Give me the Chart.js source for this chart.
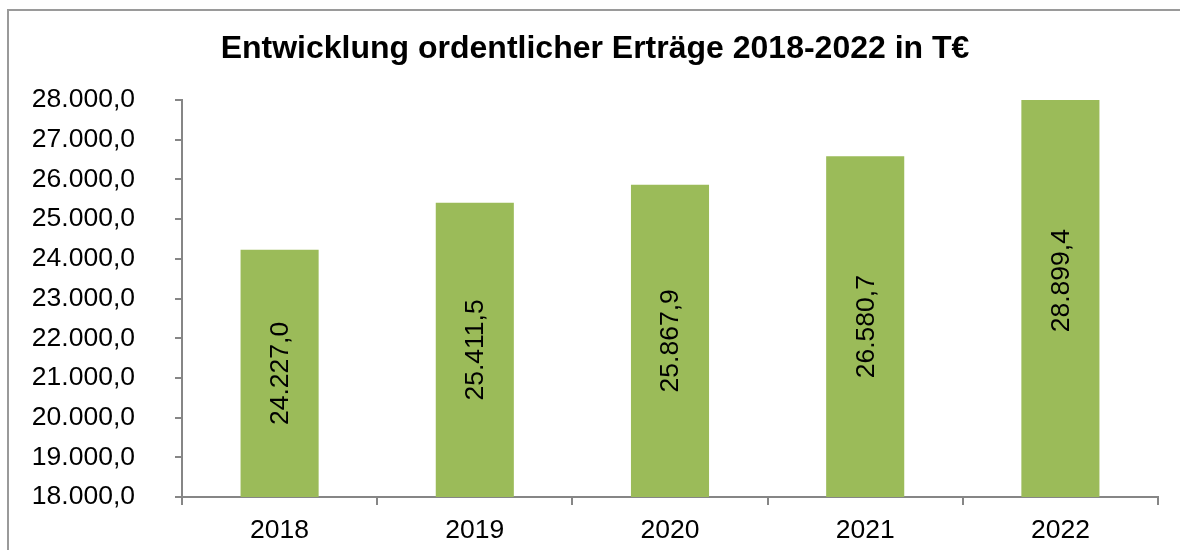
<!DOCTYPE html>
<html>
<head>
<meta charset="utf-8">
<script src="https://cdn.jsdelivr.net/npm/chart.js@4/dist/chart.umd.min.js"></script>
<style>
    html, body { margin: 0; padding: 0; background: #fff; }
    #wrap { width: 1180px; height: 550px; }
</style>
</head>
<body>
<div id="wrap"><canvas id="myChart" width="1180" height="550"></canvas></div>
<script>
const title = 'Entwicklung ordentlicher Erträge 2018-2022 in T€';
const years = ['2018', '2019', '2020', '2021', '2022'];
const values = [24227.0, 25411.5, 25867.9, 26580.7, 28899.4];
const y_min = 18000;
const y_max = 28000;
const y_step = 1000;

const font_family = '"Liberation Sans", Arial, sans-serif';
const axis_color = '#868686';

// German number format: 28.000,0
function fmt_de(v) {
    let parts = v.toFixed(1).split('.');
    let int_part = parts[0].replace(/\B(?=(\d{3})+(?!\d))/g, '.');
    return int_part + ',' + parts[1];
}

// frame lines (top + left) like the cropped chart border
const frame_plugin = {
    id: 'frame',
    beforeDraw(chart) {
        const ctx = chart.ctx;
        ctx.save();
        ctx.strokeStyle = '#9a9a9a';
        ctx.lineWidth = 2;
        ctx.beginPath();
        ctx.moveTo(8, 550);
        ctx.lineTo(8, 10);
        ctx.lineTo(1180, 10);
        ctx.stroke();
        ctx.restore();
    }
};

// value labels, rotated, centered in the (unclipped) bar
const value_labels = {
    id: 'value_labels',
    afterDatasetsDraw(chart) {
        const ctx = chart.ctx;
        const y = chart.scales.y;
        const meta = chart.getDatasetMeta(0);
        ctx.save();
        ctx.font = '26.5px ' + font_family;
        ctx.fillStyle = '#000';
        ctx.textAlign = 'center';
        ctx.textBaseline = 'middle';
        meta.data.forEach((bar, i) => {
            const v = values[i];
            const top = y.getPixelForValue(v);
            const base = y.getPixelForValue(y_min);
            ctx.save();
            ctx.translate(bar.x, (top + base) / 2);
            ctx.rotate(-Math.PI / 2);
            ctx.fillText(fmt_de(v), 0, 1);
            ctx.restore();
        });
        ctx.restore();
    }
};

function render_chart() {
    let ctx = document.getElementById('myChart');
    let myChart = new Chart(ctx, {
        type: 'bar',
        data: {
            labels: years,
            datasets: [{
                data: values,
                backgroundColor: '#9BBB59',
                borderWidth: 0,
                categoryPercentage: 1,
                barPercentage: 0.4
            }]
        },
        options: {
            responsive: false,
            animation: false,
            events: [],
            layout: {
                padding: { left: 32, right: 22, top: 0, bottom: 0 }
            },
            plugins: {
                legend: { display: false },
                tooltip: { enabled: false },
                title: {
                    display: true,
                    text: title,
                    color: '#000',
                    font: { family: font_family, size: 32, weight: 'bold' },
                    padding: { top: 30, bottom: 31.6 }
                }
            },
            scales: {
                x: {
                    grid: {
                        offset: true,
                        drawOnChartArea: false,
                        drawTicks: true,
                        tickLength: 8,
                        color: axis_color,
                        lineWidth: 2
                    },
                    border: { display: true, color: axis_color, width: 2 },
                    ticks: {
                        color: '#000',
                        font: { family: font_family, size: 26.5 },
                        padding: 9.5
                    },
                    afterFit(scale) { scale.height = 53; }
                },
                y: {
                    min: y_min,
                    max: y_max,
                    grid: {
                        drawOnChartArea: false,
                        drawTicks: true,
                        tickLength: 7,
                        color: axis_color,
                        lineWidth: 2
                    },
                    border: { display: true, color: axis_color, width: 2 },
                    ticks: {
                        stepSize: y_step,
                        color: '#000',
                        font: { family: font_family, size: 26.5 },
                        padding: 40,
                        callback: v => fmt_de(v)
                    },
                    afterFit(scale) {
                        scale.width = 150;
                        // big label padding would otherwise push the plot bottom up
                        scale.paddingTop = 0;
                        scale.paddingBottom = 0;
                    }
                }
            }
        },
        plugins: [frame_plugin, value_labels]
    });
    return myChart;
}

render_chart();
</script>
</body>
</html>
